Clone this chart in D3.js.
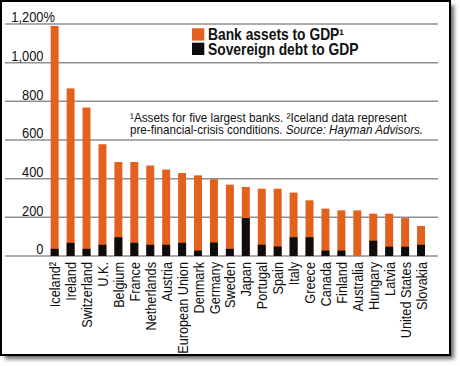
<!DOCTYPE html>
<html>
<head>
<meta charset="utf-8">
<script src="https://cdn.jsdelivr.net/npm/d3@7"></script>
<style>
  html, body { margin: 0; padding: 0; background: #fff; }
  svg { display: block; }
  text { font-family: "Liberation Sans", Arial, sans-serif; }
</style>
</head>
<body>
<svg id="chart" width="460" height="366"></svg>
<script>
const categories = ["Iceland²","Ireland","Switzerland","U.K.","Belgium","France","Netherlands","Austria","European Union","Denmark","Germany","Sweden","Japan","Portugal","Spain","Italy","Greece","Canada","Finland","Australia","Hungary","Latvia","United States","Slovakia"];
const bankAssets = [1190, 867, 768, 578, 486, 486, 468, 447, 429, 417, 397, 369, 357, 348, 348, 328, 288, 245, 236, 236, 219, 219, 196, 155];
const sovereignDebt = [37, 68, 37, 58, 97, 68, 58, 58, 68, 28, 70, 37, 196, 58, 49, 97, 97, 28, 28, 0, 79, 48, 48, 58];
const yTicks = [0, 200, 400, 600, 800, 1000, 1200];
const legendLabels = ["Bank assets to GDP¹", "Sovereign debt to GDP"];
const noteLine1 = "¹Assets for five largest banks. ²Iceland data represent";
const noteLine2a = "pre-financial-crisis conditions. ";
const noteLine2b = "Source: Hayman Advisors.";

const ORANGE = "#E1611D", BLACK = "#0d0d0d", GRID = "#8f8f8f", INK = "#111";
const NARROW = 0.83; // horizontal compression to mimic a condensed face
const svg = d3.select("#chart");

// frame with shadow
const defs = svg.append("defs");
const f = defs.append("filter").attr("id", "blur").attr("x", "-10%").attr("y", "-10%").attr("width", "120%").attr("height", "120%");
f.append("feGaussianBlur").attr("stdDeviation", 2);
svg.append("rect").attr("x", 5).attr("y", 5).attr("width", 449).attr("height", 354)
  .attr("fill", "#666").attr("filter", "url(#blur)");
svg.append("rect").attr("x", 1).attr("y", 1).attr("width", 449).attr("height", 354)
  .attr("fill", "#fff").attr("stroke", "#000").attr("stroke-width", 2);

const x = d3.scaleBand().domain(categories).range([46.7, 429]).paddingInner(0.5).paddingOuter(0.25);
const y = d3.scaleLinear().domain([0, 1200]).range([256, 24]);

// gridlines
svg.append("g").selectAll("line").data(yTicks).join("line")
  .attr("x1", 5).attr("x2", 438)
  .attr("y1", d => y(d)).attr("y2", d => y(d))
  .attr("stroke", GRID).attr("stroke-width", 1.5);

function narrowText(parent, tx, ty, extra, sx) {
  const g = parent.append("g").attr("transform", `translate(${tx},${ty}) ${extra || ""} scale(${sx || NARROW},1)`);
  return g.append("text").attr("fill", INK);
}

// y labels
const fmt = d3.format(",");
const yl = svg.append("g");
yTicks.forEach(t => {
  const tx = narrowText(yl, 43.5, y(t) - 1.6).attr("font-size", 15.5);
  if (t === 1200) {
    tx.text(fmt(t));
    const w = tx.node().getComputedTextLength();
    tx.attr("x", -w).text(fmt(t) + "%");
  } else {
    tx.attr("text-anchor", "end").text(fmt(t));
  }
});

// bars
const bars = svg.append("g");
bars.selectAll("rect.bank").data(categories).join("rect").attr("class", "bank")
  .attr("x", d => x(d)).attr("width", x.bandwidth())
  .attr("y", (d, i) => y(bankAssets[i])).attr("height", (d, i) => y(0) - y(bankAssets[i]))
  .attr("fill", ORANGE);
bars.selectAll("rect.debt").data(categories).join("rect").attr("class", "debt")
  .attr("x", d => x(d)).attr("width", x.bandwidth())
  .attr("y", (d, i) => y(sovereignDebt[i])).attr("height", (d, i) => y(0) - y(sovereignDebt[i]))
  .attr("fill", BLACK);

// x labels
const xl = svg.append("g");
categories.forEach(c => {
  narrowText(xl, x(c) + x.bandwidth() / 2, 262, "rotate(-90)", 0.82)
    .attr("text-anchor", "end").attr("dy", "0.36em").attr("font-size", 15.5).text(c);
});

// legend
const lg = svg.append("g");
[ORANGE, BLACK].forEach((c, i) => {
  lg.append("rect").attr("x", 192).attr("y", 28.3 + i * 14.4).attr("width", 12.3).attr("height", 12.3).attr("fill", c);
  narrowText(lg, 208, 40.3 + i * 14.2, "", 0.865)
    .attr("font-size", 16).attr("font-weight", "bold").text(legendLabels[i]);
});

// note
const nt = svg.append("g");
narrowText(nt, 130, 121.5, "", 0.975).attr("font-size", 12).text(noteLine1);
const n2 = narrowText(nt, 130, 133.5, "", 0.97).attr("font-size", 12).text(noteLine2a);
n2.append("tspan").attr("font-style", "italic").text(noteLine2b);
</script>
</body>
</html>
